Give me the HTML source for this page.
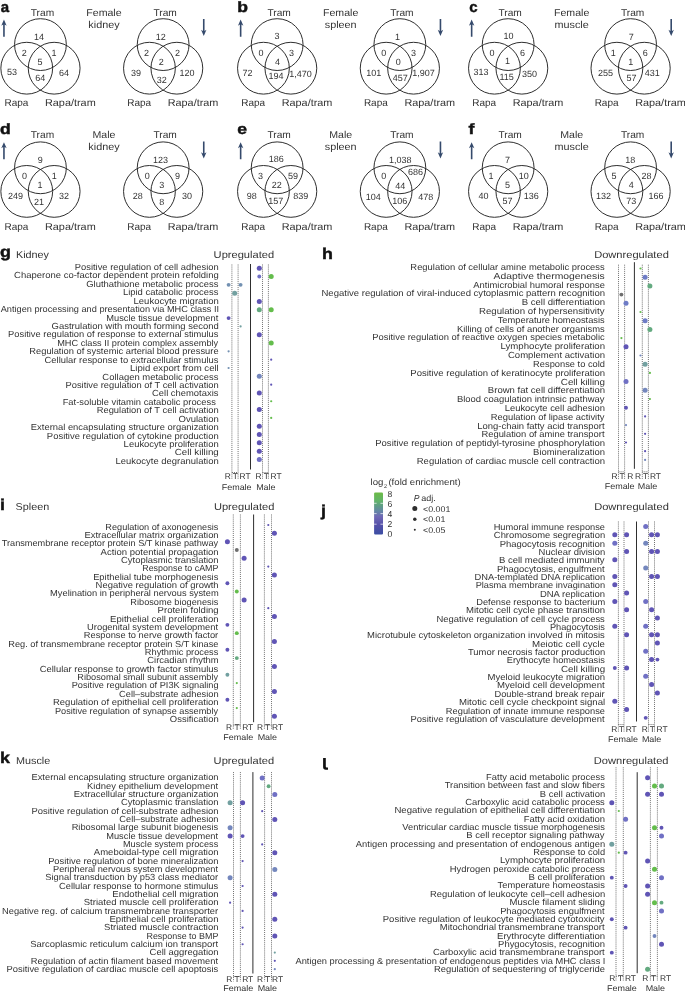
<!DOCTYPE html><html><head><meta charset="utf-8"><title>Figure</title><style>html,body{margin:0;padding:0;background:#fff;}body{width:685px;height:992px;overflow:hidden;font-family:"Liberation Sans", sans-serif;}svg{display:block;will-change:transform;filter:blur(0.3px);}</style></head><body><svg width="685" height="992" viewBox="0 0 685 992" font-family='"Liberation Sans", sans-serif' fill="#333333" text-rendering="geometricPrecision"><g fill="none" stroke="#242424" stroke-width="0.95"><circle cx="40.45" cy="44.60" r="25.9"/><circle cx="26.75" cy="68.20" r="25.9"/><circle cx="54.15" cy="68.20" r="25.9"/><circle cx="163.15" cy="44.60" r="25.9"/><circle cx="149.45" cy="68.20" r="25.9"/><circle cx="176.85" cy="68.20" r="25.9"/><circle cx="277.15" cy="44.60" r="25.9"/><circle cx="263.45" cy="68.20" r="25.9"/><circle cx="290.85" cy="68.20" r="25.9"/><circle cx="399.85" cy="44.60" r="25.9"/><circle cx="386.15" cy="68.20" r="25.9"/><circle cx="413.55" cy="68.20" r="25.9"/><circle cx="508.15" cy="44.60" r="25.9"/><circle cx="494.45" cy="68.20" r="25.9"/><circle cx="521.85" cy="68.20" r="25.9"/><circle cx="630.60" cy="44.60" r="25.9"/><circle cx="616.90" cy="68.20" r="25.9"/><circle cx="644.30" cy="68.20" r="25.9"/><circle cx="40.45" cy="167.80" r="25.9"/><circle cx="26.75" cy="191.40" r="25.9"/><circle cx="54.15" cy="191.40" r="25.9"/><circle cx="163.15" cy="167.80" r="25.9"/><circle cx="149.45" cy="191.40" r="25.9"/><circle cx="176.85" cy="191.40" r="25.9"/><circle cx="277.15" cy="167.80" r="25.9"/><circle cx="263.45" cy="191.40" r="25.9"/><circle cx="290.85" cy="191.40" r="25.9"/><circle cx="399.85" cy="167.80" r="25.9"/><circle cx="386.15" cy="191.40" r="25.9"/><circle cx="413.55" cy="191.40" r="25.9"/><circle cx="508.15" cy="167.80" r="25.9"/><circle cx="494.45" cy="191.40" r="25.9"/><circle cx="521.85" cy="191.40" r="25.9"/><circle cx="630.60" cy="167.80" r="25.9"/><circle cx="616.90" cy="191.40" r="25.9"/><circle cx="644.30" cy="191.40" r="25.9"/></g>
<text x="0.80" y="11.80" font-size="15" font-weight="bold" fill="#111" stroke="#111" stroke-width="0.45">a</text>
<text transform="translate(42.45,15.80) scale(1.02,1)" font-size="10" text-anchor="middle">Tram</text>
<text x="16.45" y="105.80" font-size="10" text-anchor="middle">Rapa</text>
<text transform="translate(70.35,105.80) scale(1.087,1)" font-size="10" text-anchor="middle">Rapa/tram</text>
<text x="39.10" y="39.80" font-size="9" text-anchor="middle">14</text>
<text x="24.20" y="55.90" font-size="9" text-anchor="middle">2</text>
<text x="54.00" y="55.90" font-size="9" text-anchor="middle">1</text>
<text x="40.10" y="64.80" font-size="9" text-anchor="middle">5</text>
<text x="11.95" y="75.45" font-size="9" text-anchor="middle">53</text>
<text x="40.30" y="81.40" font-size="9" text-anchor="middle">64</text>
<text x="63.90" y="75.80" font-size="9" text-anchor="middle">64</text>
<text transform="translate(165.15,15.80) scale(1.02,1)" font-size="10" text-anchor="middle">Tram</text>
<text x="139.15" y="105.80" font-size="10" text-anchor="middle">Rapa</text>
<text transform="translate(193.05,105.80) scale(1.087,1)" font-size="10" text-anchor="middle">Rapa/tram</text>
<text x="160.80" y="39.90" font-size="9" text-anchor="middle">12</text>
<text x="146.40" y="56.00" font-size="9" text-anchor="middle">2</text>
<text x="177.40" y="56.00" font-size="9" text-anchor="middle">2</text>
<text x="161.30" y="64.80" font-size="9" text-anchor="middle">2</text>
<text x="135.90" y="75.80" font-size="9" text-anchor="middle">39</text>
<text x="161.70" y="82.80" font-size="9" text-anchor="middle">32</text>
<text x="187.10" y="75.80" font-size="9" text-anchor="middle">120</text>
<text transform="translate(103.95,15.70) scale(1.06,1)" font-size="10" text-anchor="middle">Female</text>
<text transform="translate(103.95,27.70) scale(1.08,1)" font-size="10" text-anchor="middle">kidney</text>
<path d="M3.15,36.70 V24.40 L1.25,25.70 L3.95,19.60 L6.65,25.70 L4.75,24.40 V36.70 Z" fill="#354a6c"/>
<path d="M202.95,19.00 V31.00 L201.05,29.70 L203.75,35.90 L206.45,29.70 L204.55,31.00 V19.00 Z" fill="#354a6c"/>
<text transform="translate(237.30,11.80) scale(1.17,1)" font-size="15" font-weight="bold" fill="#111" stroke="#111" stroke-width="0.45">b</text>
<text transform="translate(279.15,15.80) scale(1.02,1)" font-size="10" text-anchor="middle">Tram</text>
<text x="253.15" y="105.80" font-size="10" text-anchor="middle">Rapa</text>
<text transform="translate(307.05,105.80) scale(1.087,1)" font-size="10" text-anchor="middle">Rapa/tram</text>
<text x="277.10" y="39.00" font-size="9" text-anchor="middle">3</text>
<text x="261.00" y="55.70" font-size="9" text-anchor="middle">0</text>
<text x="291.40" y="55.70" font-size="9" text-anchor="middle">3</text>
<text x="277.40" y="65.10" font-size="9" text-anchor="middle">4</text>
<text x="247.60" y="75.60" font-size="9" text-anchor="middle">72</text>
<text x="276.10" y="79.30" font-size="9" text-anchor="middle">194</text>
<text x="300.60" y="76.50" font-size="9" text-anchor="middle">1,470</text>
<text transform="translate(401.85,15.80) scale(1.02,1)" font-size="10" text-anchor="middle">Tram</text>
<text x="375.85" y="105.80" font-size="10" text-anchor="middle">Rapa</text>
<text transform="translate(429.75,105.80) scale(1.087,1)" font-size="10" text-anchor="middle">Rapa/tram</text>
<text x="397.40" y="39.50" font-size="9" text-anchor="middle">1</text>
<text x="383.70" y="55.90" font-size="9" text-anchor="middle">0</text>
<text x="413.50" y="55.90" font-size="9" text-anchor="middle">3</text>
<text x="398.30" y="64.80" font-size="9" text-anchor="middle">0</text>
<text x="373.70" y="75.80" font-size="9" text-anchor="middle">101</text>
<text x="400.20" y="80.50" font-size="9" text-anchor="middle">457</text>
<text x="423.40" y="75.80" font-size="9" text-anchor="middle">1,907</text>
<text transform="translate(340.65,15.70) scale(1.06,1)" font-size="10" text-anchor="middle">Female</text>
<text transform="translate(340.65,27.70) scale(1.08,1)" font-size="10" text-anchor="middle">spleen</text>
<path d="M239.85,36.70 V24.40 L237.95,25.70 L240.65,19.60 L243.35,25.70 L241.45,24.40 V36.70 Z" fill="#354a6c"/>
<path d="M439.65,19.00 V31.00 L437.75,29.70 L440.45,35.90 L443.15,29.70 L441.25,31.00 V19.00 Z" fill="#354a6c"/>
<text x="469.20" y="11.80" font-size="15" font-weight="bold" fill="#111" stroke="#111" stroke-width="0.45">c</text>
<text transform="translate(510.15,15.80) scale(1.02,1)" font-size="10" text-anchor="middle">Tram</text>
<text x="484.15" y="105.80" font-size="10" text-anchor="middle">Rapa</text>
<text transform="translate(538.05,105.80) scale(1.087,1)" font-size="10" text-anchor="middle">Rapa/tram</text>
<text x="508.40" y="39.00" font-size="9" text-anchor="middle">10</text>
<text x="492.10" y="55.70" font-size="9" text-anchor="middle">0</text>
<text x="522.40" y="55.70" font-size="9" text-anchor="middle">6</text>
<text x="507.60" y="64.40" font-size="9" text-anchor="middle">1</text>
<text x="480.90" y="75.30" font-size="9" text-anchor="middle">313</text>
<text x="506.70" y="80.20" font-size="9" text-anchor="middle">115</text>
<text x="529.50" y="76.70" font-size="9" text-anchor="middle">350</text>
<text transform="translate(632.60,15.80) scale(1.02,1)" font-size="10" text-anchor="middle">Tram</text>
<text x="606.60" y="105.80" font-size="10" text-anchor="middle">Rapa</text>
<text transform="translate(660.50,105.80) scale(1.087,1)" font-size="10" text-anchor="middle">Rapa/tram</text>
<text x="631.20" y="39.90" font-size="9" text-anchor="middle">7</text>
<text x="613.20" y="55.70" font-size="9" text-anchor="middle">1</text>
<text x="645.20" y="55.70" font-size="9" text-anchor="middle">6</text>
<text x="630.70" y="64.80" font-size="9" text-anchor="middle">1</text>
<text x="605.60" y="75.80" font-size="9" text-anchor="middle">255</text>
<text x="631.60" y="80.50" font-size="9" text-anchor="middle">57</text>
<text x="652.20" y="75.80" font-size="9" text-anchor="middle">431</text>
<text transform="translate(571.65,15.70) scale(1.06,1)" font-size="10" text-anchor="middle">Female</text>
<text transform="translate(571.65,27.70) scale(1.08,1)" font-size="10" text-anchor="middle">muscle</text>
<path d="M470.85,36.70 V24.40 L468.95,25.70 L471.65,19.60 L474.35,25.70 L472.45,24.40 V36.70 Z" fill="#354a6c"/>
<path d="M670.40,19.00 V31.00 L668.50,29.70 L671.20,35.90 L673.90,29.70 L672.00,31.00 V19.00 Z" fill="#354a6c"/>
<text transform="translate(0.00,134.40) scale(1.17,1)" font-size="15" font-weight="bold" fill="#111" stroke="#111" stroke-width="0.45">d</text>
<text transform="translate(42.45,138.40) scale(1.02,1)" font-size="10" text-anchor="middle">Tram</text>
<text x="16.45" y="229.60" font-size="10" text-anchor="middle">Rapa</text>
<text transform="translate(70.35,229.60) scale(1.087,1)" font-size="10" text-anchor="middle">Rapa/tram</text>
<text x="40.30" y="162.50" font-size="9" text-anchor="middle">9</text>
<text x="24.50" y="178.80" font-size="9" text-anchor="middle">0</text>
<text x="54.30" y="178.80" font-size="9" text-anchor="middle">1</text>
<text x="39.90" y="188.10" font-size="9" text-anchor="middle">1</text>
<text x="15.40" y="198.60" font-size="9" text-anchor="middle">249</text>
<text x="38.90" y="204.50" font-size="9" text-anchor="middle">21</text>
<text x="63.90" y="198.60" font-size="9" text-anchor="middle">32</text>
<text transform="translate(165.15,138.40) scale(1.02,1)" font-size="10" text-anchor="middle">Tram</text>
<text x="139.15" y="229.60" font-size="10" text-anchor="middle">Rapa</text>
<text transform="translate(193.05,229.60) scale(1.087,1)" font-size="10" text-anchor="middle">Rapa/tram</text>
<text x="160.50" y="162.70" font-size="9" text-anchor="middle">123</text>
<text x="147.30" y="179.30" font-size="9" text-anchor="middle">0</text>
<text x="177.40" y="178.80" font-size="9" text-anchor="middle">9</text>
<text x="161.70" y="188.10" font-size="9" text-anchor="middle">3</text>
<text x="137.70" y="198.90" font-size="9" text-anchor="middle">28</text>
<text x="161.70" y="204.50" font-size="9" text-anchor="middle">8</text>
<text x="187.10" y="198.90" font-size="9" text-anchor="middle">30</text>
<text transform="translate(103.95,138.30) scale(1.06,1)" font-size="10" text-anchor="middle">Male</text>
<text transform="translate(103.95,150.30) scale(1.08,1)" font-size="10" text-anchor="middle">kidney</text>
<path d="M3.15,159.30 V147.00 L1.25,148.30 L3.95,142.20 L6.65,148.30 L4.75,147.00 V159.30 Z" fill="#354a6c"/>
<path d="M202.95,141.60 V153.60 L201.05,152.30 L203.75,158.50 L206.45,152.30 L204.55,153.60 V141.60 Z" fill="#354a6c"/>
<text transform="translate(237.30,134.40) scale(1.17,1)" font-size="15" font-weight="bold" fill="#111" stroke="#111" stroke-width="0.45">e</text>
<text transform="translate(279.15,138.40) scale(1.02,1)" font-size="10" text-anchor="middle">Tram</text>
<text x="253.15" y="229.60" font-size="10" text-anchor="middle">Rapa</text>
<text transform="translate(307.05,229.60) scale(1.087,1)" font-size="10" text-anchor="middle">Rapa/tram</text>
<text x="276.20" y="162.10" font-size="9" text-anchor="middle">186</text>
<text x="260.60" y="178.80" font-size="9" text-anchor="middle">3</text>
<text x="293.00" y="178.80" font-size="9" text-anchor="middle">59</text>
<text x="276.70" y="188.10" font-size="9" text-anchor="middle">22</text>
<text x="251.80" y="198.60" font-size="9" text-anchor="middle">98</text>
<text x="275.80" y="203.80" font-size="9" text-anchor="middle">157</text>
<text x="300.70" y="198.60" font-size="9" text-anchor="middle">839</text>
<text transform="translate(401.85,138.40) scale(1.02,1)" font-size="10" text-anchor="middle">Tram</text>
<text x="375.85" y="229.60" font-size="10" text-anchor="middle">Rapa</text>
<text transform="translate(429.75,229.60) scale(1.087,1)" font-size="10" text-anchor="middle">Rapa/tram</text>
<text x="400.20" y="162.80" font-size="9" text-anchor="middle">1,038</text>
<text x="383.70" y="179.10" font-size="9" text-anchor="middle">0</text>
<text x="415.40" y="175.40" font-size="9" text-anchor="middle">686</text>
<text x="400.20" y="188.60" font-size="9" text-anchor="middle">44</text>
<text x="373.30" y="199.50" font-size="9" text-anchor="middle">104</text>
<text x="399.80" y="204.20" font-size="9" text-anchor="middle">106</text>
<text x="425.80" y="199.50" font-size="9" text-anchor="middle">478</text>
<text transform="translate(340.65,138.30) scale(1.06,1)" font-size="10" text-anchor="middle">Male</text>
<text transform="translate(340.65,150.30) scale(1.08,1)" font-size="10" text-anchor="middle">spleen</text>
<path d="M239.85,159.30 V147.00 L237.95,148.30 L240.65,142.20 L243.35,148.30 L241.45,147.00 V159.30 Z" fill="#354a6c"/>
<path d="M439.65,141.60 V153.60 L437.75,152.30 L440.45,158.50 L443.15,152.30 L441.25,153.60 V141.60 Z" fill="#354a6c"/>
<text transform="translate(468.40,134.40) scale(1.17,1)" font-size="15" font-weight="bold" fill="#111" stroke="#111" stroke-width="0.45">f</text>
<text transform="translate(510.15,138.40) scale(1.02,1)" font-size="10" text-anchor="middle">Tram</text>
<text x="484.15" y="229.60" font-size="10" text-anchor="middle">Rapa</text>
<text transform="translate(538.05,229.60) scale(1.087,1)" font-size="10" text-anchor="middle">Rapa/tram</text>
<text x="507.60" y="162.50" font-size="9" text-anchor="middle">7</text>
<text x="490.90" y="178.80" font-size="9" text-anchor="middle">1</text>
<text x="523.70" y="178.80" font-size="9" text-anchor="middle">10</text>
<text x="507.60" y="188.10" font-size="9" text-anchor="middle">5</text>
<text x="483.60" y="198.90" font-size="9" text-anchor="middle">40</text>
<text x="507.60" y="203.80" font-size="9" text-anchor="middle">57</text>
<text x="531.20" y="198.60" font-size="9" text-anchor="middle">136</text>
<text transform="translate(632.60,138.40) scale(1.02,1)" font-size="10" text-anchor="middle">Tram</text>
<text x="606.60" y="229.60" font-size="10" text-anchor="middle">Rapa</text>
<text transform="translate(660.50,229.60) scale(1.087,1)" font-size="10" text-anchor="middle">Rapa/tram</text>
<text x="630.20" y="163.00" font-size="9" text-anchor="middle">18</text>
<text x="614.00" y="179.30" font-size="9" text-anchor="middle">5</text>
<text x="646.50" y="179.30" font-size="9" text-anchor="middle">28</text>
<text x="631.20" y="188.40" font-size="9" text-anchor="middle">4</text>
<text x="603.50" y="198.90" font-size="9" text-anchor="middle">132</text>
<text x="631.20" y="203.80" font-size="9" text-anchor="middle">73</text>
<text x="656.10" y="198.90" font-size="9" text-anchor="middle">166</text>
<text transform="translate(571.65,138.30) scale(1.06,1)" font-size="10" text-anchor="middle">Male</text>
<text transform="translate(571.65,150.30) scale(1.08,1)" font-size="10" text-anchor="middle">muscle</text>
<path d="M470.85,159.30 V147.00 L468.95,148.30 L471.65,142.20 L474.35,148.30 L472.45,147.00 V159.30 Z" fill="#354a6c"/>
<path d="M670.40,141.60 V153.60 L668.50,152.30 L671.20,158.50 L673.90,152.30 L672.00,153.60 V141.60 Z" fill="#354a6c"/>
<text transform="translate(0.00,257.10) scale(1.15,1)" font-size="15.5" font-weight="bold" fill="#111" stroke="#111" stroke-width="0.45">g</text>
<text transform="translate(16.00,258.00) scale(1.08,1)" font-size="10">Kidney</text>
<text transform="translate(274.10,257.75) scale(1.11,1)" font-size="10" text-anchor="end">Upregulated</text>
<text transform="translate(218.72,270.00) scale(1.0621,1)" font-size="8.8" text-anchor="end">Positive regulation of cell adhesion</text>
<text transform="translate(218.73,278.43) scale(1.0784,1)" font-size="8.8" text-anchor="end">Chaperone co-factor dependent protein refolding</text>
<text transform="translate(218.44,286.85) scale(1.0725,1)" font-size="8.8" text-anchor="end">Gluthathione metabolic process</text>
<text transform="translate(218.44,295.28) scale(1.0732,1)" font-size="8.8" text-anchor="end">Lipid catabolic process</text>
<text transform="translate(218.73,303.70) scale(1.0825,1)" font-size="8.8" text-anchor="end">Leukocyte migration</text>
<text transform="translate(219.03,312.13) scale(1.0458,1)" font-size="8.8" text-anchor="end">Antigen processing and presentation via MHC class II</text>
<text transform="translate(218.23,320.56) scale(1.0554,1)" font-size="8.8" text-anchor="end">Muscle tissue development</text>
<text transform="translate(218.73,328.98) scale(1.0784,1)" font-size="8.8" text-anchor="end">Gastrulation with mouth forming second</text>
<text transform="translate(218.43,337.41) scale(1.0596,1)" font-size="8.8" text-anchor="end">Positive regulation of response to external stimulus</text>
<text transform="translate(218.20,345.83) scale(1.0457,1)" font-size="8.8" text-anchor="end">MHC class II protein complex assembly</text>
<text transform="translate(218.61,354.26) scale(1.0609,1)" font-size="8.8" text-anchor="end">Regulation of systemic arterial blood pressure</text>
<text transform="translate(218.43,362.69) scale(1.0678,1)" font-size="8.8" text-anchor="end">Cellular response to extracellular stimulus</text>
<text transform="translate(218.77,371.11) scale(1.0937,1)" font-size="8.8" text-anchor="end">Lipid export from cell</text>
<text transform="translate(218.44,379.54) scale(1.0741,1)" font-size="8.8" text-anchor="end">Collagen metabolic process</text>
<text transform="translate(218.72,387.96) scale(1.0611,1)" font-size="8.8" text-anchor="end">Positive regulation of T cell activation</text>
<text transform="translate(218.44,396.39) scale(1.0691,1)" font-size="8.8" text-anchor="end">Cell chemotaxis</text>
<text transform="translate(215.83,404.82) scale(1.062,1)" font-size="8.8" text-anchor="end">Fat-soluble vitamin catabolic process</text>
<text transform="translate(218.73,413.24) scale(1.0651,1)" font-size="8.8" text-anchor="end">Regulation of T cell activation</text>
<text transform="translate(218.73,421.67) scale(1.0811,1)" font-size="8.8" text-anchor="end">Ovulation</text>
<text transform="translate(218.73,430.09) scale(1.0672,1)" font-size="8.8" text-anchor="end">External encapsulating structure organization</text>
<text transform="translate(218.73,438.52) scale(1.0749,1)" font-size="8.8" text-anchor="end">Positive regulation of cytokine production</text>
<text transform="translate(218.73,446.95) scale(1.0745,1)" font-size="8.8" text-anchor="end">Leukocyte proliferation</text>
<text transform="translate(218.75,455.37) scale(1.1091,1)" font-size="8.8" text-anchor="end">Cell killing</text>
<text transform="translate(218.73,463.80) scale(1.0766,1)" font-size="8.8" text-anchor="end">Leukocyte degranulation</text>
<line x1="250.5" y1="264.0" x2="250.5" y2="469.5" stroke="#2e2e2e" stroke-width="1"/>
<text x="227.80" y="479.40" font-size="8.4" text-anchor="middle">R</text>
<text x="235.40" y="479.40" font-size="8.4" text-anchor="middle">T</text>
<text x="245.10" y="479.40" font-size="8.4" text-anchor="middle">RT</text>
<text x="258.60" y="479.40" font-size="8.4" text-anchor="middle">R</text>
<text x="266.30" y="479.40" font-size="8.4" text-anchor="middle">T</text>
<text x="276.10" y="479.40" font-size="8.4" text-anchor="middle">RT</text>
<text transform="translate(236.65,489.60) scale(1.07,1)" font-size="8.4" text-anchor="middle">Female</text>
<text transform="translate(265.85,489.60) scale(1.07,1)" font-size="8.4" text-anchor="middle">Male</text>
<text transform="translate(322.00,258.80) scale(1.15,1)" font-size="15.5" font-weight="bold" fill="#111" stroke="#111" stroke-width="0.45">h</text>
<text transform="translate(668.80,257.70) scale(1.11,1)" font-size="10" text-anchor="end">Downregulated</text>
<text transform="translate(604.74,270.00) scale(1.0686,1)" font-size="8.8" text-anchor="end">Regulation of cellular amine metabolic process</text>
<text transform="translate(604.76,278.81) scale(1.1774,1)" font-size="8.8" text-anchor="end">Adaptive thermogenesis</text>
<text transform="translate(604.91,287.62) scale(1.0678,1)" font-size="8.8" text-anchor="end">Antimicrobial humoral response</text>
<text transform="translate(605.04,296.43) scale(1.0839,1)" font-size="8.8" text-anchor="end">Negative regulation of viral-induced cytoplasmic pattern recognition</text>
<text transform="translate(605.04,305.24) scale(1.0876,1)" font-size="8.8" text-anchor="end">B cell differentiation</text>
<text transform="translate(604.50,314.05) scale(1.0975,1)" font-size="8.8" text-anchor="end">Regulation of hypersensitivity</text>
<text transform="translate(604.73,322.86) scale(1.0573,1)" font-size="8.8" text-anchor="end">Temperature homeostasis</text>
<text transform="translate(604.73,331.67) scale(1.068,1)" font-size="8.8" text-anchor="end">Killing of cells of another organisms</text>
<text transform="translate(604.73,340.48) scale(1.0659,1)" font-size="8.8" text-anchor="end">Positive regulation of reactive oxygen species metabolic</text>
<text transform="translate(605.04,349.29) scale(1.0944,1)" font-size="8.8" text-anchor="end">Lymphocyte proliferation</text>
<text transform="translate(605.04,358.10) scale(1.085,1)" font-size="8.8" text-anchor="end">Complement activation</text>
<text transform="translate(605.02,366.91) scale(1.0577,1)" font-size="8.8" text-anchor="end">Response to cold</text>
<text transform="translate(605.03,375.72) scale(1.0819,1)" font-size="8.8" text-anchor="end">Positive regulation of keratinocyte proliferation</text>
<text transform="translate(605.05,384.53) scale(1.1169,1)" font-size="8.8" text-anchor="end">Cell killing</text>
<text transform="translate(605.04,393.34) scale(1.0863,1)" font-size="8.8" text-anchor="end">Brown fat cell differentiation</text>
<text transform="translate(604.50,402.15) scale(1.0738,1)" font-size="8.8" text-anchor="end">Blood coagulation intrinsic pathway</text>
<text transform="translate(605.03,410.96) scale(1.0682,1)" font-size="8.8" text-anchor="end">Leukocyte cell adhesion</text>
<text transform="translate(604.50,419.77) scale(1.0663,1)" font-size="8.8" text-anchor="end">Regulation of lipase activity</text>
<text transform="translate(604.53,428.58) scale(1.0757,1)" font-size="8.8" text-anchor="end">Long-chain fatty acid transport</text>
<text transform="translate(604.53,437.39) scale(1.0666,1)" font-size="8.8" text-anchor="end">Regulation of amine transport</text>
<text transform="translate(605.03,446.20) scale(1.0802,1)" font-size="8.8" text-anchor="end">Positive regulation of peptidyl-tyrosine phosphorylation</text>
<text transform="translate(605.03,455.01) scale(1.0736,1)" font-size="8.8" text-anchor="end">Biomineralization</text>
<text transform="translate(605.03,463.82) scale(1.0816,1)" font-size="8.8" text-anchor="end">Regulation of cardiac muscle cell contraction</text>
<line x1="634.4" y1="262.2" x2="634.4" y2="468.8" stroke="#2e2e2e" stroke-width="1"/>
<text x="614.50" y="479.30" font-size="8.4" text-anchor="middle">R</text>
<text x="622.10" y="479.30" font-size="8.4" text-anchor="middle">T</text>
<text x="630.40" y="479.30" font-size="8.4" text-anchor="middle">R</text>
<text x="638.10" y="479.30" font-size="8.4" text-anchor="middle">R</text>
<text x="645.50" y="479.30" font-size="8.4" text-anchor="middle">T</text>
<text x="655.40" y="479.30" font-size="8.4" text-anchor="middle">RT</text>
<text transform="translate(619.65,489.40) scale(1.07,1)" font-size="8.4" text-anchor="middle">Female</text>
<text transform="translate(647.45,489.40) scale(1.07,1)" font-size="8.4" text-anchor="middle">Male</text>
<text transform="translate(0.00,509.70) scale(1.15,1)" font-size="15.5" font-weight="bold" fill="#111" stroke="#111" stroke-width="0.45">i</text>
<text transform="translate(15.60,510.30) scale(1.08,1)" font-size="10">Spleen</text>
<text transform="translate(274.40,509.90) scale(1.11,1)" font-size="10" text-anchor="end">Upregulated</text>
<text transform="translate(218.33,529.60) scale(1.0405,1)" font-size="8.8" text-anchor="end">Regulation of axonogenesis</text>
<text transform="translate(218.63,537.96) scale(1.0721,1)" font-size="8.8" text-anchor="end">Extracellular matrix organization</text>
<text transform="translate(218.10,546.32) scale(1.0437,1)" font-size="8.8" text-anchor="end">Transmembrane receptor protein S/T kinase pathway</text>
<text transform="translate(218.64,554.68) scale(1.0828,1)" font-size="8.8" text-anchor="end">Action potential propagation</text>
<text transform="translate(218.63,563.04) scale(1.074,1)" font-size="8.8" text-anchor="end">Cytoplasmic translation</text>
<text transform="translate(218.47,571.40) scale(1.0122,1)" font-size="8.8" text-anchor="end">Response to cAMP</text>
<text transform="translate(218.33,579.76) scale(1.0622,1)" font-size="8.8" text-anchor="end">Epithelial tube morphogenesis</text>
<text transform="translate(218.63,588.12) scale(1.0749,1)" font-size="8.8" text-anchor="end">Negative regulation of growth</text>
<text transform="translate(218.64,596.48) scale(1.0576,1)" font-size="8.8" text-anchor="end">Myelination in peripheral nervous system</text>
<text transform="translate(218.33,604.84) scale(1.0462,1)" font-size="8.8" text-anchor="end">Ribosome biogenesis</text>
<text transform="translate(218.64,613.20) scale(1.0852,1)" font-size="8.8" text-anchor="end">Protein folding</text>
<text transform="translate(218.64,621.56) scale(1.0879,1)" font-size="8.8" text-anchor="end">Epithelial cell proliferation</text>
<text transform="translate(218.13,629.92) scale(1.0638,1)" font-size="8.8" text-anchor="end">Urogenital system development</text>
<text transform="translate(218.17,638.28) scale(1.0566,1)" font-size="8.8" text-anchor="end">Response to nerve growth factor</text>
<text transform="translate(218.50,646.64) scale(1.0496,1)" font-size="8.8" text-anchor="end">Reg. of transmembrane receptor protein S/T kinase</text>
<text transform="translate(218.33,655.00) scale(1.0514,1)" font-size="8.8" text-anchor="end">Rhythmic process</text>
<text transform="translate(218.65,663.36) scale(1.0738,1)" font-size="8.8" text-anchor="end">Circadian rhythm</text>
<text transform="translate(218.34,671.72) scale(1.0747,1)" font-size="8.8" text-anchor="end">Cellular response to growth factor stimulus</text>
<text transform="translate(218.10,680.08) scale(1.043,1)" font-size="8.8" text-anchor="end">Ribosomal small subunit assembly</text>
<text transform="translate(218.62,688.44) scale(1.0471,1)" font-size="8.8" text-anchor="end">Positive regulation of PI3K signaling</text>
<text transform="translate(218.62,696.80) scale(1.0548,1)" font-size="8.8" text-anchor="end">Cell–substrate adhesion</text>
<text transform="translate(218.63,705.16) scale(1.0825,1)" font-size="8.8" text-anchor="end">Regulation of epithelial cell proliferation</text>
<text transform="translate(218.10,713.52) scale(1.0426,1)" font-size="8.8" text-anchor="end">Positive regulation of synapse assembly</text>
<text transform="translate(218.63,721.88) scale(1.0726,1)" font-size="8.8" text-anchor="end">Ossification</text>
<line x1="253.6" y1="514.5" x2="253.6" y2="722.2" stroke="#2e2e2e" stroke-width="1"/>
<text x="229.10" y="729.70" font-size="8.4" text-anchor="middle">R</text>
<text x="237.00" y="729.70" font-size="8.4" text-anchor="middle">T</text>
<text x="247.70" y="729.70" font-size="8.4" text-anchor="middle">RT</text>
<text x="260.00" y="729.70" font-size="8.4" text-anchor="middle">R</text>
<text x="267.60" y="729.70" font-size="8.4" text-anchor="middle">T</text>
<text x="277.50" y="729.70" font-size="8.4" text-anchor="middle">RT</text>
<text transform="translate(238.25,739.90) scale(1.07,1)" font-size="8.4" text-anchor="middle">Female</text>
<text transform="translate(267.35,739.90) scale(1.07,1)" font-size="8.4" text-anchor="middle">Male</text>
<text transform="translate(321.10,516.00) scale(1.15,1)" font-size="15.5" font-weight="bold" fill="#111" stroke="#111" stroke-width="0.45">j</text>
<text transform="translate(668.80,509.70) scale(1.11,1)" font-size="10" text-anchor="end">Downregulated</text>
<text transform="translate(605.01,529.80) scale(1.0545,1)" font-size="8.8" text-anchor="end">Humoral immune response</text>
<text transform="translate(605.13,538.15) scale(1.0683,1)" font-size="8.8" text-anchor="end">Chromosome segregration</text>
<text transform="translate(605.13,546.50) scale(1.0778,1)" font-size="8.8" text-anchor="end">Phagocytosis recognition</text>
<text transform="translate(605.13,554.85) scale(1.0712,1)" font-size="8.8" text-anchor="end">Nuclear division</text>
<text transform="translate(604.60,563.20) scale(1.0808,1)" font-size="8.8" text-anchor="end">B cell mediated immunity</text>
<text transform="translate(604.63,571.55) scale(1.0681,1)" font-size="8.8" text-anchor="end">Phagocytosis, engulfment</text>
<text transform="translate(605.12,579.90) scale(1.0605,1)" font-size="8.8" text-anchor="end">DNA-templated DNA replication</text>
<text transform="translate(605.12,588.25) scale(1.0507,1)" font-size="8.8" text-anchor="end">Plasma membrane invagination</text>
<text transform="translate(605.13,596.60) scale(1.0753,1)" font-size="8.8" text-anchor="end">DNA replication</text>
<text transform="translate(605.14,604.95) scale(1.0543,1)" font-size="8.8" text-anchor="end">Defense response to bacterium</text>
<text transform="translate(605.14,613.30) scale(1.0867,1)" font-size="8.8" text-anchor="end">Mitotic cell cycle phase transition</text>
<text transform="translate(604.84,621.65) scale(1.0722,1)" font-size="8.8" text-anchor="end">Negative regulation of cell cycle process</text>
<text transform="translate(604.83,630.00) scale(1.0494,1)" font-size="8.8" text-anchor="end">Phagocytosis</text>
<text transform="translate(604.84,638.35) scale(1.0758,1)" font-size="8.8" text-anchor="end">Microtubule cytoskeleton organization involved in mitosis</text>
<text transform="translate(605.02,646.70) scale(1.1051,1)" font-size="8.8" text-anchor="end">Meiotic cell cycle</text>
<text transform="translate(605.13,655.05) scale(1.0697,1)" font-size="8.8" text-anchor="end">Tumor necrosis factor production</text>
<text transform="translate(604.83,663.40) scale(1.0493,1)" font-size="8.8" text-anchor="end">Erythocyte homeostasis</text>
<text transform="translate(605.15,671.75) scale(1.1143,1)" font-size="8.8" text-anchor="end">Cell killing</text>
<text transform="translate(605.14,680.10) scale(1.0844,1)" font-size="8.8" text-anchor="end">Myeloid leukocyte migration</text>
<text transform="translate(604.63,688.45) scale(1.0895,1)" font-size="8.8" text-anchor="end">Myeloid cell development</text>
<text transform="translate(604.67,696.80) scale(1.0525,1)" font-size="8.8" text-anchor="end">Double-strand break repair</text>
<text transform="translate(605.18,705.15) scale(1.0957,1)" font-size="8.8" text-anchor="end">Mitotic cell cycle checkpoint signal</text>
<text transform="translate(605.01,713.50) scale(1.0566,1)" font-size="8.8" text-anchor="end">Regulation of innate immune response</text>
<text transform="translate(604.63,721.85) scale(1.0668,1)" font-size="8.8" text-anchor="end">Positive regulation of vasculature development</text>
<line x1="636.5" y1="521.5" x2="636.5" y2="721.5" stroke="#2e2e2e" stroke-width="1"/>
<text x="614.30" y="732.10" font-size="8.4" text-anchor="middle">R</text>
<text x="621.50" y="732.10" font-size="8.4" text-anchor="middle">T</text>
<text x="631.20" y="732.10" font-size="8.4" text-anchor="middle">RT</text>
<text x="644.70" y="732.10" font-size="8.4" text-anchor="middle">R</text>
<text x="652.30" y="732.10" font-size="8.4" text-anchor="middle">T</text>
<text x="662.10" y="732.10" font-size="8.4" text-anchor="middle">RT</text>
<text transform="translate(623.00,742.30) scale(1.07,1)" font-size="8.4" text-anchor="middle">Female</text>
<text transform="translate(651.60,742.30) scale(1.07,1)" font-size="8.4" text-anchor="middle">Male</text>
<text transform="translate(0.00,763.00) scale(1.15,1)" font-size="15.5" font-weight="bold" fill="#111" stroke="#111" stroke-width="0.45">k</text>
<text transform="translate(16.00,763.60) scale(1.08,1)" font-size="10">Muscle</text>
<text transform="translate(274.10,763.70) scale(1.11,1)" font-size="10" text-anchor="end">Upregulated</text>
<text transform="translate(218.53,780.40) scale(1.0626,1)" font-size="8.8" text-anchor="end">External encapsulating structure organization</text>
<text transform="translate(218.03,788.74) scale(1.0714,1)" font-size="8.8" text-anchor="end">Kidney epithelium development</text>
<text transform="translate(218.53,797.07) scale(1.0683,1)" font-size="8.8" text-anchor="end">Extracellular structure organization</text>
<text transform="translate(218.53,805.40) scale(1.0729,1)" font-size="8.8" text-anchor="end">Cytoplasmic translation</text>
<text transform="translate(218.53,813.74) scale(1.0716,1)" font-size="8.8" text-anchor="end">Positive regulation of cell-substrate adhesion</text>
<text transform="translate(218.52,822.07) scale(1.0505,1)" font-size="8.8" text-anchor="end">Cell–substrate adhesion</text>
<text transform="translate(218.23,830.41) scale(1.0554,1)" font-size="8.8" text-anchor="end">Ribosomal large subunit biogenesis</text>
<text transform="translate(218.03,838.75) scale(1.0535,1)" font-size="8.8" text-anchor="end">Muscle tissue development</text>
<text transform="translate(218.23,847.08) scale(1.0423,1)" font-size="8.8" text-anchor="end">Muscle system process</text>
<text transform="translate(218.53,855.41) scale(1.0806,1)" font-size="8.8" text-anchor="end">Ameboidal-type cell migration</text>
<text transform="translate(218.52,863.75) scale(1.0622,1)" font-size="8.8" text-anchor="end">Positive regulation of bone mineralization</text>
<text transform="translate(218.03,872.09) scale(1.0516,1)" font-size="8.8" text-anchor="end">Peripheral nervous system development</text>
<text transform="translate(218.07,880.42) scale(1.061,1)" font-size="8.8" text-anchor="end">Signal transduction by p53 class mediator</text>
<text transform="translate(218.23,888.75) scale(1.0609,1)" font-size="8.8" text-anchor="end">Cellular response to hormone stimulus</text>
<text transform="translate(218.54,897.09) scale(1.0861,1)" font-size="8.8" text-anchor="end">Endothelial cell migration</text>
<text transform="translate(218.53,905.42) scale(1.0807,1)" font-size="8.8" text-anchor="end">Striated muscle cell proliferation</text>
<text transform="translate(218.07,913.76) scale(1.0625,1)" font-size="8.8" text-anchor="end">Negative reg. of calcium transmembrane transporter</text>
<text transform="translate(218.54,922.10) scale(1.094,1)" font-size="8.8" text-anchor="end">Epithelial cell proliferation</text>
<text transform="translate(218.53,930.43) scale(1.0787,1)" font-size="8.8" text-anchor="end">Striated muscle contraction</text>
<text transform="translate(218.37,938.76) scale(1.0144,1)" font-size="8.8" text-anchor="end">Response to BMP</text>
<text transform="translate(218.03,947.10) scale(1.0761,1)" font-size="8.8" text-anchor="end">Sarcoplasmic reticulum calcium ion transport</text>
<text transform="translate(218.53,955.43) scale(1.0767,1)" font-size="8.8" text-anchor="end">Cell aggregation</text>
<text transform="translate(218.03,963.77) scale(1.0632,1)" font-size="8.8" text-anchor="end">Regulation of actin filament based movement</text>
<text transform="translate(218.23,972.11) scale(1.0667,1)" font-size="8.8" text-anchor="end">Positive regulation of cardiac muscle cell apoptosis</text>
<line x1="252.9" y1="772.1" x2="252.9" y2="973.5" stroke="#2e2e2e" stroke-width="1"/>
<text x="229.30" y="982.00" font-size="8.4" text-anchor="middle">R</text>
<text x="237.00" y="982.00" font-size="8.4" text-anchor="middle">T</text>
<text x="247.70" y="982.00" font-size="8.4" text-anchor="middle">RT</text>
<text x="260.00" y="982.00" font-size="8.4" text-anchor="middle">R</text>
<text x="267.60" y="982.00" font-size="8.4" text-anchor="middle">T</text>
<text x="277.50" y="982.00" font-size="8.4" text-anchor="middle">RT</text>
<text transform="translate(238.25,991.20) scale(1.07,1)" font-size="8.4" text-anchor="middle">Female</text>
<text transform="translate(267.35,991.20) scale(1.07,1)" font-size="8.4" text-anchor="middle">Male</text>
<path d="M323.10,757.90 h2.7 v8.6 q0,0.9 0.9,0.9 h1.3 v2.3 h-2.2 q-2.7,0 -2.7,-2.7 Z" fill="#111"/>
<text transform="translate(668.50,763.80) scale(1.11,1)" font-size="10" text-anchor="end">Downregulated</text>
<text transform="translate(604.83,779.80) scale(1.0648,1)" font-size="8.8" text-anchor="end">Fatty acid metabolic process</text>
<text transform="translate(604.83,788.16) scale(1.055,1)" font-size="8.8" text-anchor="end">Transition between fast and slow fibers</text>
<text transform="translate(605.13,796.52) scale(1.0686,1)" font-size="8.8" text-anchor="end">B cell activation</text>
<text transform="translate(604.84,804.88) scale(1.0739,1)" font-size="8.8" text-anchor="end">Carboxylic acid catabolic process</text>
<text transform="translate(605.14,813.24) scale(1.0888,1)" font-size="8.8" text-anchor="end">Negative regulation of epithelial cell differentiation</text>
<text transform="translate(605.13,821.60) scale(1.0741,1)" font-size="8.8" text-anchor="end">Fatty acid oxidation</text>
<text transform="translate(604.83,829.96) scale(1.0617,1)" font-size="8.8" text-anchor="end">Ventricular cardiac muscle tissue morphogenesis</text>
<text transform="translate(604.60,838.32) scale(1.0759,1)" font-size="8.8" text-anchor="end">B cell receptor signaling pathway</text>
<text transform="translate(605.12,846.68) scale(1.0617,1)" font-size="8.8" text-anchor="end">Antigen processing and presentation of endogenous antigen</text>
<text transform="translate(605.12,855.04) scale(1.0577,1)" font-size="8.8" text-anchor="end">Response to cold</text>
<text transform="translate(605.14,863.40) scale(1.0997,1)" font-size="8.8" text-anchor="end">Lymphocyte proliferation</text>
<text transform="translate(604.84,871.76) scale(1.0715,1)" font-size="8.8" text-anchor="end">Hydrogen peroxide catabolic process</text>
<text transform="translate(605.14,880.12) scale(1.0961,1)" font-size="8.8" text-anchor="end">B cell proliferation</text>
<text transform="translate(604.83,888.48) scale(1.0593,1)" font-size="8.8" text-anchor="end">Temperature homeostasis</text>
<text transform="translate(605.13,896.84) scale(1.0719,1)" font-size="8.8" text-anchor="end">Regulation of leukocyte cell–cell adhesion</text>
<text transform="translate(605.13,905.20) scale(1.0793,1)" font-size="8.8" text-anchor="end">Muscle filament sliding</text>
<text transform="translate(604.63,913.56) scale(1.0631,1)" font-size="8.8" text-anchor="end">Phagocytosis engulfment</text>
<text transform="translate(604.60,921.92) scale(1.0802,1)" font-size="8.8" text-anchor="end">Positive regulation of leukocyte mediated cytotoxicity</text>
<text transform="translate(604.63,930.28) scale(1.0733,1)" font-size="8.8" text-anchor="end">Mitochondrial transmembrane transport</text>
<text transform="translate(605.14,938.64) scale(1.0856,1)" font-size="8.8" text-anchor="end">Erythrocyte differentiation</text>
<text transform="translate(605.13,947.00) scale(1.0727,1)" font-size="8.8" text-anchor="end">Phygocytosis, recognition</text>
<text transform="translate(604.63,955.36) scale(1.067,1)" font-size="8.8" text-anchor="end">Carboxylic acid transmembrane transport</text>
<text transform="translate(605.44,963.72) scale(1.0546,1)" font-size="8.8" text-anchor="end">Antigen processing &amp; presentation of endogenous peptides via MHC class I</text>
<text transform="translate(605.01,972.08) scale(1.0731,1)" font-size="8.8" text-anchor="end">Regulation of sequestering of triglyceride</text>
<line x1="637.2" y1="772.2" x2="637.2" y2="973.2" stroke="#2e2e2e" stroke-width="1"/>
<text x="612.40" y="981.40" font-size="8.4" text-anchor="middle">R</text>
<text x="620.50" y="981.40" font-size="8.4" text-anchor="middle">T</text>
<text x="630.40" y="981.40" font-size="8.4" text-anchor="middle">RT</text>
<text x="645.30" y="981.40" font-size="8.4" text-anchor="middle">R</text>
<text x="653.60" y="981.40" font-size="8.4" text-anchor="middle">T</text>
<text x="665.50" y="981.40" font-size="8.4" text-anchor="middle">RT</text>
<text transform="translate(621.90,990.90) scale(1.07,1)" font-size="8.4" text-anchor="middle">Female</text>
<text transform="translate(655.35,990.90) scale(1.07,1)" font-size="8.4" text-anchor="middle">Male</text>
<g stroke="#333" stroke-width="0.7" stroke-dasharray="1 1.05"><line x1="231.9" y1="264.5" x2="231.9" y2="479.0"/><line x1="238.1" y1="264.5" x2="238.1" y2="479.0"/><line x1="262.5" y1="264.5" x2="262.5" y2="479.0"/><line x1="268.4" y1="264.5" x2="268.4" y2="479.0"/><line x1="231.9" y1="472.50" x2="238.1" y2="472.50"/><line x1="262.5" y1="472.50" x2="268.4" y2="472.50"/><line x1="618.5" y1="264.7" x2="618.5" y2="478.8"/><line x1="624.6" y1="264.7" x2="624.6" y2="478.8"/><line x1="642.3" y1="264.7" x2="642.3" y2="478.8"/><line x1="648.4" y1="264.7" x2="648.4" y2="478.8"/><line x1="618.5" y1="471.80" x2="624.6" y2="471.80"/><line x1="642.3" y1="471.80" x2="648.4" y2="471.80"/><line x1="233.3" y1="514.5" x2="233.3" y2="729.5"/><line x1="240.4" y1="514.5" x2="240.4" y2="729.5"/><line x1="264.4" y1="514.5" x2="264.4" y2="729.5"/><line x1="271.5" y1="514.5" x2="271.5" y2="729.5"/><line x1="233.3" y1="725.20" x2="240.4" y2="725.20"/><line x1="264.4" y1="725.20" x2="271.5" y2="725.20"/><line x1="618.4" y1="521.5" x2="618.4" y2="731.6"/><line x1="624.0" y1="521.5" x2="624.0" y2="731.6"/><line x1="648.5" y1="521.5" x2="648.5" y2="731.6"/><line x1="654.5" y1="521.5" x2="654.5" y2="731.6"/><line x1="618.4" y1="724.50" x2="624.0" y2="724.50"/><line x1="648.5" y1="724.50" x2="654.5" y2="724.50"/><line x1="233.5" y1="772.1" x2="233.5" y2="981.5"/><line x1="240.4" y1="772.1" x2="240.4" y2="981.5"/><line x1="264.6" y1="772.1" x2="264.6" y2="981.5"/><line x1="271.5" y1="772.1" x2="271.5" y2="981.5"/><line x1="233.5" y1="976.50" x2="240.4" y2="976.50"/><line x1="264.6" y1="976.50" x2="271.5" y2="976.50"/><line x1="616.0" y1="767.3" x2="616.0" y2="981.0"/><line x1="623.3" y1="767.3" x2="623.3" y2="981.0"/><line x1="650.4" y1="767.3" x2="650.4" y2="981.0"/><line x1="657.4" y1="767.3" x2="657.4" y2="981.0"/><line x1="616.0" y1="976.20" x2="623.3" y2="976.20"/><line x1="650.4" y1="976.20" x2="657.4" y2="976.20"/></g>
<g><circle cx="259.30" cy="268.20" r="2.5" fill="#6055b5"/><circle cx="259.30" cy="276.52" r="1.95" fill="#7070c4"/><circle cx="271.20" cy="276.52" r="2.5" fill="#64bd4c"/><circle cx="228.60" cy="284.83" r="1.95" fill="#7391b2"/><circle cx="240.60" cy="284.83" r="1.95" fill="#7391b2"/><circle cx="234.70" cy="293.15" r="2.5" fill="#72a0a0"/><circle cx="259.30" cy="301.47" r="2.5" fill="#6055b5"/><circle cx="259.30" cy="309.78" r="2.5" fill="#64aa80"/><circle cx="271.20" cy="309.78" r="2.5" fill="#64bd4c"/><circle cx="228.60" cy="318.10" r="1.95" fill="#6055b5"/><circle cx="240.60" cy="326.42" r="1.1" fill="#72a0a0"/><circle cx="259.30" cy="334.74" r="2.5" fill="#6055b5"/><circle cx="271.20" cy="343.05" r="2.5" fill="#64bd4c"/><circle cx="228.60" cy="351.37" r="1.1" fill="#7391b2"/><circle cx="271.20" cy="359.69" r="1.1" fill="#6055b5"/><circle cx="228.60" cy="368.00" r="1.1" fill="#7391b2"/><circle cx="259.30" cy="376.32" r="2.5" fill="#7487bd"/><circle cx="271.20" cy="384.64" r="1.1" fill="#6055b5"/><circle cx="259.30" cy="392.95" r="2.5" fill="#6055b5"/><circle cx="271.20" cy="401.27" r="1.1" fill="#64bd4c"/><circle cx="259.30" cy="409.59" r="2.5" fill="#6055b5"/><circle cx="271.20" cy="417.91" r="1.1" fill="#64bd4c"/><circle cx="259.30" cy="426.22" r="2.5" fill="#6055b5"/><circle cx="259.30" cy="434.54" r="2.5" fill="#6055b5"/><circle cx="259.30" cy="442.86" r="2.5" fill="#6055b5"/><circle cx="259.30" cy="451.17" r="2.5" fill="#6055b5"/><circle cx="259.30" cy="459.49" r="2.5" fill="#7070c4"/><circle cx="640.50" cy="268.50" r="1.1" fill="#64bd4c"/><circle cx="645.10" cy="277.20" r="2.5" fill="#6e7cc6"/><circle cx="649.90" cy="285.90" r="2.5" fill="#64aa80"/><circle cx="621.40" cy="294.60" r="1.95" fill="#6e6e6e"/><circle cx="626.00" cy="303.30" r="2.5" fill="#6e7cc6"/><circle cx="640.50" cy="312.00" r="1.1" fill="#64bd4c"/><circle cx="645.10" cy="320.70" r="2.5" fill="#6e7cc6"/><circle cx="649.90" cy="329.40" r="2.5" fill="#64aa80"/><circle cx="621.40" cy="338.10" r="1.1" fill="#64bd4c"/><circle cx="626.00" cy="346.80" r="2.5" fill="#6055b5"/><circle cx="640.50" cy="355.50" r="1.1" fill="#7487bd"/><circle cx="645.10" cy="364.20" r="2.5" fill="#72a0a0"/><circle cx="649.90" cy="372.90" r="1.1" fill="#64bd4c"/><circle cx="626.00" cy="381.60" r="2.5" fill="#7070c4"/><circle cx="645.10" cy="390.30" r="2.5" fill="#7487bd"/><circle cx="649.90" cy="399.00" r="1.1" fill="#64bd4c"/><circle cx="626.00" cy="407.70" r="1.95" fill="#6055b5"/><circle cx="645.10" cy="416.40" r="1.1" fill="#6055b5"/><circle cx="626.00" cy="425.10" r="1.1" fill="#7487bd"/><circle cx="645.10" cy="433.80" r="1.1" fill="#6055b5"/><circle cx="626.00" cy="442.50" r="1.1" fill="#6055b5"/><circle cx="645.10" cy="451.20" r="1.1" fill="#6055b5"/><circle cx="645.10" cy="459.90" r="1.1" fill="#7487bd"/><circle cx="268.30" cy="525.00" r="1.1" fill="#6055b5"/><circle cx="274.40" cy="533.32" r="2.5" fill="#6055b5"/><circle cx="227.40" cy="541.64" r="2.5" fill="#6055b5"/><circle cx="236.80" cy="549.96" r="1.95" fill="#6e6e6e"/><circle cx="244.10" cy="558.28" r="2.5" fill="#6055b5"/><circle cx="268.30" cy="566.60" r="1.1" fill="#6055b5"/><circle cx="274.40" cy="574.92" r="2.5" fill="#6055b5"/><circle cx="227.40" cy="583.24" r="1.95" fill="#6055b5"/><circle cx="236.80" cy="591.56" r="1.95" fill="#64bd4c"/><circle cx="244.10" cy="599.88" r="2.5" fill="#6055b5"/><circle cx="268.30" cy="608.20" r="1.1" fill="#6055b5"/><circle cx="274.40" cy="616.52" r="2.5" fill="#6055b5"/><circle cx="227.40" cy="624.84" r="1.95" fill="#6055b5"/><circle cx="236.80" cy="633.16" r="1.95" fill="#64bd4c"/><circle cx="274.40" cy="641.48" r="2.5" fill="#6055b5"/><circle cx="227.40" cy="649.80" r="1.95" fill="#6055b5"/><circle cx="236.80" cy="658.12" r="1.95" fill="#64aa80"/><circle cx="274.40" cy="666.44" r="2.5" fill="#6055b5"/><circle cx="227.40" cy="674.76" r="1.95" fill="#72a0a0"/><circle cx="236.80" cy="683.08" r="1.1" fill="#64bd4c"/><circle cx="274.40" cy="691.40" r="2.5" fill="#6055b5"/><circle cx="227.40" cy="699.72" r="1.95" fill="#6055b5"/><circle cx="236.80" cy="708.04" r="1.1" fill="#64bd4c"/><circle cx="274.40" cy="716.36" r="2.5" fill="#6055b5"/><circle cx="645.70" cy="526.50" r="2.5" fill="#7070c4"/><circle cx="614.80" cy="534.82" r="2.5" fill="#6055b5"/><circle cx="626.60" cy="534.82" r="2.5" fill="#6055b5"/><circle cx="651.60" cy="534.82" r="2.5" fill="#6055b5"/><circle cx="657.40" cy="534.82" r="2.5" fill="#6055b5"/><circle cx="614.80" cy="543.14" r="2.5" fill="#7070c4"/><circle cx="645.70" cy="543.14" r="2.5" fill="#7487bd"/><circle cx="626.60" cy="551.46" r="2.5" fill="#6055b5"/><circle cx="651.60" cy="551.46" r="2.5" fill="#6055b5"/><circle cx="657.40" cy="551.46" r="2.5" fill="#6055b5"/><circle cx="614.80" cy="559.78" r="2.5" fill="#6055b5"/><circle cx="645.70" cy="568.10" r="2.5" fill="#7487bd"/><circle cx="614.80" cy="576.42" r="2.5" fill="#6055b5"/><circle cx="651.60" cy="576.42" r="2.5" fill="#6055b5"/><circle cx="657.40" cy="576.42" r="2.5" fill="#6055b5"/><circle cx="614.80" cy="584.74" r="2.5" fill="#6055b5"/><circle cx="626.60" cy="593.06" r="2.5" fill="#6055b5"/><circle cx="614.80" cy="601.38" r="2.5" fill="#6055b5"/><circle cx="645.70" cy="601.38" r="2.5" fill="#7070c4"/><circle cx="626.60" cy="609.70" r="2.5" fill="#6055b5"/><circle cx="651.60" cy="609.70" r="2.5" fill="#6055b5"/><circle cx="657.40" cy="618.02" r="2.5" fill="#6055b5"/><circle cx="614.80" cy="626.34" r="2.5" fill="#6055b5"/><circle cx="645.70" cy="626.34" r="2.5" fill="#7070c4"/><circle cx="626.60" cy="634.66" r="2.5" fill="#6055b5"/><circle cx="651.60" cy="634.66" r="2.5" fill="#6055b5"/><circle cx="657.40" cy="634.66" r="2.5" fill="#6055b5"/><circle cx="657.40" cy="642.98" r="2.5" fill="#6055b5"/><circle cx="645.70" cy="651.30" r="2.5" fill="#7070c4"/><circle cx="651.60" cy="659.62" r="2.5" fill="#6055b5"/><circle cx="657.40" cy="659.62" r="1.95" fill="#6055b5"/><circle cx="614.80" cy="667.94" r="1.95" fill="#6055b5"/><circle cx="626.60" cy="667.94" r="2.5" fill="#6055b5"/><circle cx="645.70" cy="676.26" r="2.5" fill="#7070c4"/><circle cx="651.60" cy="684.58" r="2.5" fill="#6055b5"/><circle cx="657.40" cy="692.90" r="2.5" fill="#6055b5"/><circle cx="614.80" cy="701.22" r="2.5" fill="#6055b5"/><circle cx="626.60" cy="709.54" r="2.5" fill="#6055b5"/><circle cx="645.70" cy="717.86" r="1.95" fill="#6055b5"/><circle cx="262.20" cy="777.90" r="2.5" fill="#7070c4"/><circle cx="268.60" cy="786.22" r="1.95" fill="#64aa80"/><circle cx="274.80" cy="794.53" r="2.5" fill="#7070c4"/><circle cx="230.10" cy="802.85" r="2.5" fill="#72a0a0"/><circle cx="242.60" cy="802.85" r="2.5" fill="#6055b5"/><circle cx="262.20" cy="811.17" r="1.1" fill="#6055b5"/><circle cx="274.80" cy="819.49" r="2.5" fill="#6055b5"/><circle cx="230.10" cy="827.80" r="2.5" fill="#7487bd"/><circle cx="230.10" cy="836.12" r="2.5" fill="#6055b5"/><circle cx="242.60" cy="836.12" r="1.95" fill="#6055b5"/><circle cx="262.20" cy="844.44" r="1.1" fill="#6055b5"/><circle cx="274.80" cy="852.75" r="2.5" fill="#6055b5"/><circle cx="242.60" cy="861.07" r="1.1" fill="#6055b5"/><circle cx="274.80" cy="869.39" r="2.5" fill="#7487bd"/><circle cx="230.10" cy="877.70" r="2.5" fill="#7487bd"/><circle cx="242.60" cy="886.02" r="1.1" fill="#6055b5"/><circle cx="274.80" cy="894.34" r="2.5" fill="#6055b5"/><circle cx="230.10" cy="902.65" r="1.1" fill="#6055b5"/><circle cx="242.60" cy="910.97" r="1.1" fill="#6055b5"/><circle cx="274.80" cy="919.29" r="2.5" fill="#6055b5"/><circle cx="242.60" cy="927.61" r="1.1" fill="#6055b5"/><circle cx="274.80" cy="935.92" r="2.5" fill="#6055b5"/><circle cx="242.60" cy="944.24" r="1.1" fill="#6055b5"/><circle cx="274.80" cy="952.56" r="1.1" fill="#72a0a0"/><circle cx="274.80" cy="960.87" r="1.1" fill="#6055b5"/><circle cx="274.80" cy="969.19" r="1.1" fill="#7487bd"/><circle cx="647.60" cy="777.70" r="2.5" fill="#6055b5"/><circle cx="654.50" cy="786.03" r="2.5" fill="#64bd4c"/><circle cx="661.50" cy="786.03" r="2.5" fill="#64aa80"/><circle cx="647.60" cy="794.36" r="2.5" fill="#6055b5"/><circle cx="661.50" cy="794.36" r="2.5" fill="#6055b5"/><circle cx="611.80" cy="802.69" r="2.5" fill="#6055b5"/><circle cx="618.80" cy="811.02" r="1.1" fill="#64bd4c"/><circle cx="625.60" cy="819.35" r="2.5" fill="#7070c4"/><circle cx="654.50" cy="827.68" r="2.5" fill="#64bd4c"/><circle cx="661.50" cy="827.68" r="1.95" fill="#6055b5"/><circle cx="661.50" cy="836.01" r="2.5" fill="#7070c4"/><circle cx="611.80" cy="844.34" r="2.5" fill="#72a0a0"/><circle cx="618.80" cy="852.67" r="1.1" fill="#64bd4c"/><circle cx="625.60" cy="852.67" r="1.95" fill="#6055b5"/><circle cx="647.60" cy="861.00" r="2.5" fill="#6055b5"/><circle cx="654.50" cy="869.33" r="2.5" fill="#64bd4c"/><circle cx="611.80" cy="877.66" r="1.95" fill="#6055b5"/><circle cx="661.50" cy="877.66" r="2.5" fill="#7070c4"/><circle cx="625.60" cy="885.99" r="1.95" fill="#6055b5"/><circle cx="647.60" cy="885.99" r="2.5" fill="#6055b5"/><circle cx="647.60" cy="894.32" r="2.5" fill="#6055b5"/><circle cx="654.50" cy="902.65" r="2.5" fill="#64bd4c"/><circle cx="661.50" cy="902.65" r="1.95" fill="#64aa80"/><circle cx="661.50" cy="910.98" r="2.5" fill="#7070c4"/><circle cx="611.80" cy="919.31" r="1.95" fill="#6055b5"/><circle cx="625.60" cy="927.64" r="1.95" fill="#6055b5"/><circle cx="654.50" cy="935.97" r="1.95" fill="#7487bd"/><circle cx="661.50" cy="944.30" r="2.5" fill="#6055b5"/><circle cx="611.80" cy="952.63" r="1.95" fill="#6055b5"/><circle cx="647.60" cy="969.29" r="2.5" fill="#64aa80"/></g>
<defs><linearGradient id="cb" x1="0" y1="1" x2="0" y2="0"><stop offset="0" stop-color="#3b4ea3"/><stop offset="0.22" stop-color="#5450a8"/><stop offset="0.42" stop-color="#7068b6"/><stop offset="0.55" stop-color="#6486a6"/><stop offset="0.68" stop-color="#5f9d86"/><stop offset="0.8" stop-color="#62b46a"/><stop offset="1" stop-color="#6cbb45"/></linearGradient></defs>
<rect x="374.1" y="492.4" width="8.9" height="42.0" rx="1.2" ry="1.0" fill="url(#cb)"/>
<line x1="374.1" y1="503.3" x2="376.6" y2="503.3" stroke="#fff" stroke-width="0.7"/>
<line x1="380.5" y1="503.3" x2="383" y2="503.3" stroke="#fff" stroke-width="0.7"/>
<line x1="374.1" y1="513.6" x2="376.6" y2="513.6" stroke="#fff" stroke-width="0.7"/>
<line x1="380.5" y1="513.6" x2="383" y2="513.6" stroke="#fff" stroke-width="0.7"/>
<line x1="374.1" y1="524.2" x2="376.6" y2="524.2" stroke="#fff" stroke-width="0.7"/>
<line x1="380.5" y1="524.2" x2="383" y2="524.2" stroke="#fff" stroke-width="0.7"/>
<text x="389.80" y="496.80" font-size="8.6" text-anchor="middle">8</text>
<text x="389.80" y="507.00" font-size="8.6" text-anchor="middle">6</text>
<text x="389.80" y="516.80" font-size="8.6" text-anchor="middle">4</text>
<text x="389.80" y="526.90" font-size="8.6" text-anchor="middle">2</text>
<text x="389.80" y="536.80" font-size="8.6" text-anchor="middle">0</text>
<text transform="translate(370.50,485.00) scale(1.07,1)" font-size="9">log</text>
<text x="384.00" y="487.60" font-size="5.5">2</text>
<text transform="translate(388.40,485.00) scale(1.07,1)" font-size="9">(fold enrichment)</text>
<text x="413.80" y="500.50" font-size="8.6" font-style="italic">P</text>
<text transform="translate(421.30,500.50) scale(1.05,1)" font-size="8.6">adj.</text>
<circle cx="414.8" cy="508.6" r="2.5" fill="#2e2e2e"/>
<circle cx="414.8" cy="519.3" r="1.75" fill="#2e2e2e"/>
<circle cx="414.8" cy="529.7" r="1.0" fill="#2e2e2e"/>
<text transform="translate(423.00,511.70) scale(1.06,1)" font-size="8.4">&lt;0.001</text>
<text transform="translate(423.00,522.00) scale(1.06,1)" font-size="8.4">&lt;0.01</text>
<text transform="translate(423.00,532.50) scale(1.06,1)" font-size="8.4">&lt;0.05</text></svg></body></html>
